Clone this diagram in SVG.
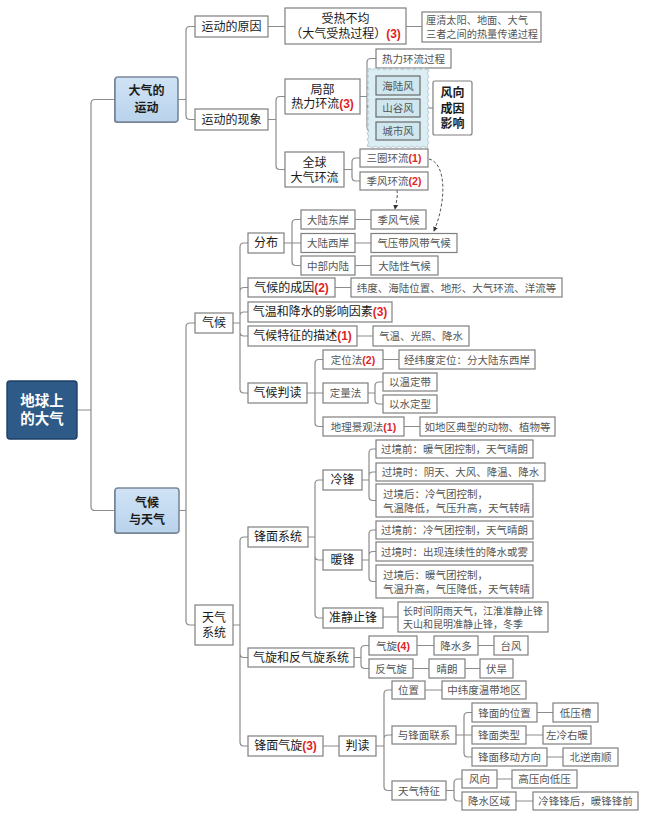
<svg xmlns="http://www.w3.org/2000/svg" width="645" height="819" viewBox="0 0 645 819">
<defs>
<linearGradient id="g1" x1="0" y1="0" x2="0" y2="1"><stop offset="0" stop-color="#d0e3f5"/><stop offset="1" stop-color="#b9d3ec"/></linearGradient>
<style>
.bx{fill:#fff;stroke:#7f7f7f;stroke-width:1.2}
.l1{fill:url(#g1);stroke:#7a889a;stroke-width:1.6}
.sh{fill:#6e7a88}
.rt{fill:#2e5a88;stroke:#1e3f66;stroke-width:1.4}
.ib{fill:#cfe6ee;stroke:#6a6a6a;stroke-width:1.2}
.t{font-family:"Liberation Sans","Noto Sans CJK SC",sans-serif;text-anchor:middle;dominant-baseline:central}
.s{font-size:10.5px;fill:#555}
.m{font-size:12px;fill:#1a1a1a}
.b{font-weight:bold}
.lt{text-anchor:start}
.r{fill:#e02424;font-weight:bold}
.cn{fill:none;stroke:#8c8c8c;stroke-width:1.2}
.da{fill:none;stroke:#555;stroke-width:1;stroke-dasharray:3 2}
</style>
<marker id="ah" viewBox="0 0 6 6" refX="5" refY="3" markerWidth="5" markerHeight="5" orient="auto">
<path d="M0,0 L6,3 L0,6 Z" fill="#333"/>
</marker>
</defs>
<rect width="645" height="819" fill="#fff"/>

<g id="connectors" class="cn">
<path d="M77,410 H91 M91,410 V103.5 Q91,99.5 95,99.5 H115 M91,410 V506.5 Q91,510.5 95,510.5 H115"/>
<path d="M178,99.5 H186 M186,99.5 V30.5 Q186,26.5 190,26.5 H195 M186,99.5 V115.5 Q186,119.5 190,119.5 H195"/>
<path d="M268,26.5 H285 M406,26.5 H422"/>
<path d="M268,119.5 H276 M276,119.5 V100.5 Q276,96.5 280,96.5 H285 M276,119.5 V165.5 Q276,169.5 280,169.5 H285"/>
<path d="M360,96.5 H367 M367,96.5 V62.5 Q367,58.5 371,58.5 H376 M367,96.5 V89.5 Q367,85.5 371,85.5 H376 M367,96.5 V104 Q367,108 371,108 H376 M367,96.5 V127 Q367,131 371,131 H376"/>
<path d="M420,108 H433"/>
<path d="M344,169.5 H352 M352,169.5 V162 Q352,158 356,158 H360 M352,169.5 V177 Q352,181 356,181 H360"/>
<path d="M179,510.5 H186 M186,510.5 V327 Q186,323 190,323 H195 M186,510.5 V621 Q186,625 190,625 H195"/>
<path d="M233,323 H240 M240,323 V247 Q240,243 244,243 H248 M240,323 V291.5 Q240,287.5 244,287.5 H248 M240,323 V316 Q240,312 244,312 H248 M240,323 V332 Q240,336 244,336 H248 M240,323 V389 Q240,393 244,393 H248"/>
<path d="M284,243 H301 M292,243 V223.5 Q292,219.5 296,219.5 H301 M292,243 V261.5 Q292,265.5 296,265.5 H301"/>
<path d="M355,219.5 H371 M355,243 H371 M355,265.5 H371 M335,287.5 H351 M357,336 H373"/>
<path d="M307,393 H323 M315,393 V363.5 Q315,359.5 319,359.5 H323 M315,393 V422.5 Q315,426.5 319,426.5 H323"/>
<path d="M383,359.5 H399 M368,393 H375 M375,393 V386 Q375,382 379,382 H383 M375,393 V400 Q375,404 379,404 H383 M404,426.5 H420"/>
<path d="M233,625 H240 M240,625 V541 Q240,537 244,537 H248 M240,625 V653.5 Q240,657.5 244,657.5 H248 M240,625 V742 Q240,746 244,746 H248"/>
<path d="M308,537 H315 M315,537 V484 Q315,480 319,480 H323 M315,537 V556 Q315,560 319,560 H323 M315,537 V614 Q315,618 319,618 H323"/>
<path d="M362,480 H369 M369,480 V453 Q369,449 373,449 H376 M369,480 V476 Q369,472 373,472 H376 M369,480 V496.5 Q369,500.5 373,500.5 H376"/>
<path d="M362,560 H369 M369,560 V534 Q369,530 373,530 H376 M369,560 V555.5 Q369,551.5 373,551.5 H376 M369,560 V577.5 Q369,581.5 373,581.5 H376"/>
<path d="M383,617 H398"/>
<path d="M354,657.5 H361 M361,657.5 V649.5 Q361,645.5 365,645.5 H369 M361,657.5 V664.5 Q361,668.5 365,668.5 H369"/>
<path d="M417,645.5 H434 M478,645.5 H494 M413,668.5 H429 M465,668.5 H480"/>
<path d="M323,746 H339 M376,746 H384 M384,746 V694 Q384,690 388,690 H392 M384,746 V739 Q384,735 388,735 H392 M384,746 V786.5 Q384,790.5 388,790.5 H392"/>
<path d="M425,690 H442 M456,735 H472 M464,735 V716.5 Q464,712.5 468,712.5 H472 M464,735 V753 Q464,757 468,757 H472"/>
<path d="M537,712.5 H553 M526,735 H543 M547,757 H563"/>
<path d="M446,790.5 H454 M454,790.5 V783 Q454,779 458,779 H462 M454,790.5 V797 Q454,801 458,801 H462 M497,779 H512 M516,801 H533"/>
<path class="da" d="M397,190 C398,198 396,203 395,209" marker-end="url(#ah)"/>
<path class="da" d="M429,159 C446,163 447,200 434,231" marker-end="url(#ah)"/>
</g>

<g id="n-root"><rect class="rt" x="7" y="381" width="70" height="58" rx="3"/><text class="t b" x="42" y="401" font-size="14.5" fill="#fff">地球上</text><text class="t b" x="42" y="419" font-size="14.5" fill="#fff">的大气</text></g>
<g id="n-dqyd"><rect class="sh" x="114" y="78" width="63" height="45" rx="3"/><rect class="l1" x="115" y="77" width="63" height="45" rx="3"/><text class="t m b" x="146.5" y="91">大气的</text><text class="t m b" x="146.5" y="108">运动</text></g>
<g id="n-qhytq"><rect class="sh" x="114" y="489" width="64" height="45" rx="3"/><rect class="l1" x="115" y="488" width="64" height="45" rx="3"/><text class="t m b" x="147" y="503">气候</text><text class="t m b" x="147" y="520">与天气</text></g>

<g id="n-ydyy"><rect class="bx" x="195" y="16" width="73" height="21"/><text class="t m" x="231.5" y="26.5">运动的原因</text></g>
<g id="n-srbj"><rect class="bx" x="285" y="8" width="121" height="36"/><text class="t m" x="345.5" y="19">受热不均</text><text class="t m" x="345.5" y="34">（大气受热过程）<tspan class="r">(3)</tspan></text></g>
<g id="n-lq"><rect class="bx" x="422" y="12" width="119" height="30"/><text class="t lt" x="426" y="20.5" font-size="10.2" fill="#555">厘清太阳、地面、大气</text><text class="t lt" x="426" y="34" font-size="10.2" fill="#555">三者之间的热量传递过程</text></g>
<g id="n-ydxx"><rect class="bx" x="195" y="109" width="73" height="21"/><text class="t m" x="231.5" y="119.5">运动的现象</text></g>
<g id="n-jb"><rect class="bx" x="285" y="79" width="75" height="35"/><text class="t m" x="322.5" y="90">局部</text><text class="t m" x="322.5" y="104">热力环流<tspan class="r">(3)</tspan></text></g>
<g id="n-qq"><rect class="bx" x="285" y="152" width="59" height="35"/><text class="t m" x="314.5" y="163">全球</text><text class="t m" x="314.5" y="178">大气环流</text></g>
<g id="n-rlhlgc"><rect class="bx" x="376" y="49" width="75" height="19"/><text class="t s" x="413.5" y="58.5">热力环流过程</text></g>
<g id="n-wave"><path d="M368,69 q1.5,-1.6 3,0 t3,0 t3,0 t3,0 t3,0 t3,0 t3,0 t3,0 t3,0 t3,0 t3,0 t3,0 t3,0 t3,0 t3,0 t3,0 t3,0 t3,0 t3,0 t3,0 q1.6,1.5 0,3 t0,3 t0,3 t0,3 t0,3 t0,3 t0,3 t0,3 t0,3 t0,3 t0,3 t0,3 t0,3 t0,3 t0,3 t0,3 t0,3 t0,3 t0,3 t0,3 t0,3 t0,3 t0,3 t0,3 t0,3 t0,3 q-1.5,1.6 -3,0 t-3,0 t-3,0 t-3,0 t-3,0 t-3,0 t-3,0 t-3,0 t-3,0 t-3,0 t-3,0 t-3,0 t-3,0 t-3,0 t-3,0 t-3,0 t-3,0 t-3,0 t-3,0 t-3,0 q-1.6,-1.5 0,-3 t0,-3 t0,-3 t0,-3 t0,-3 t0,-3 t0,-3 t0,-3 t0,-3 t0,-3 t0,-3 t0,-3 t0,-3 t0,-3 t0,-3 t0,-3 t0,-3 t0,-3 t0,-3 t0,-3 t0,-3 t0,-3 t0,-3 t0,-3 t0,-3 t0,-3 Z" fill="#dbeef3" stroke="#b4c9d0" stroke-width="1"/></g>
<g id="n-hlf"><rect class="ib" x="376" y="76" width="44" height="19"/><text class="t s" x="398" y="85.5">海陆风</text></g>
<g id="n-sgf"><rect class="ib" x="376" y="99" width="44" height="18"/><text class="t s" x="398" y="108">山谷风</text></g>
<g id="n-csf"><rect class="ib" x="376" y="122" width="44" height="18"/><text class="t s" x="398" y="131">城市风</text></g>
<g id="n-fxcyyx"><rect class="bx" x="433" y="81" width="39" height="54" rx="2"/><text class="t m b" x="452.5" y="93">风向</text><text class="t m b" x="452.5" y="108.5">成因</text><text class="t m b" x="452.5" y="124">影响</text></g>
<g id="n-sqhl"><rect class="bx" x="360" y="149" width="68" height="18"/><text class="t s" x="394" y="158">三圈环流<tspan class="r">(1)</tspan></text></g>
<g id="n-jfhl"><rect class="bx" x="360" y="172" width="68" height="18"/><text class="t s" x="394" y="181">季风环流<tspan class="r">(2)</tspan></text></g>

<g id="n-qh"><rect class="bx" x="195" y="313" width="38" height="20"/><text class="t m" x="214" y="323">气候</text></g>
<g id="n-fb"><rect class="bx" x="248" y="233" width="36" height="20"/><text class="t m" x="266" y="243">分布</text></g>
<g id="n-dlda"><rect class="bx" x="301" y="210" width="54" height="19"/><text class="t s" x="328" y="219.5">大陆东岸</text></g>
<g id="n-jfqh"><rect class="bx" x="371" y="210" width="55" height="19"/><text class="t s" x="398.5" y="219.5">季风气候</text></g>
<g id="n-dlxa"><rect class="bx" x="301" y="233.5" width="54" height="19"/><text class="t s" x="328" y="243">大陆西岸</text></g>
<g id="n-qydfd"><rect class="bx" x="371" y="233.5" width="86" height="19"/><text class="t s" x="414" y="243">气压带风带气候</text></g>
<g id="n-zbnl"><rect class="bx" x="301" y="256" width="54" height="19"/><text class="t s" x="328" y="265.5">中部内陆</text></g>
<g id="n-dlxqh"><rect class="bx" x="371" y="256" width="67" height="19"/><text class="t s" x="404.5" y="265.5">大陆性气候</text></g>
<g id="n-qhcy"><rect class="bx" x="248" y="278" width="87" height="19"/><text class="t m" x="291.5" y="287.5">气候的成因<tspan class="r">(2)</tspan></text></g>
<g id="n-wd"><rect class="bx" x="351" y="278" width="211" height="19"/><text class="t s" x="456.5" y="287.5">纬度、海陆位置、地形、大气环流、洋流等</text></g>
<g id="n-yxys"><rect class="bx" x="248" y="302" width="144" height="20"/><text class="t m" x="320" y="312">气温和降水的影响因素<tspan class="r">(3)</tspan></text></g>
<g id="n-tzms"><rect class="bx" x="248" y="326" width="109" height="20"/><text class="t m" x="302.5" y="336">气候特征的描述<tspan class="r">(1)</tspan></text></g>
<g id="n-qwgz"><rect class="bx" x="373" y="326" width="96" height="20"/><text class="t s" x="421" y="336">气温、光照、降水</text></g>
<g id="n-qhpd"><rect class="bx" x="248" y="383" width="59" height="20"/><text class="t m" x="277.5" y="393">气候判读</text></g>
<g id="n-dwf"><rect class="bx" x="323" y="350" width="60" height="19"/><text class="t s" x="353" y="359.5">定位法<tspan class="r">(2)</tspan></text></g>
<g id="n-jwd"><rect class="bx" x="399" y="350" width="136" height="19"/><text class="t s" x="467" y="359.5">经纬度定位：分大陆东西岸</text></g>
<g id="n-dlf"><rect class="bx" x="323" y="383" width="45" height="20"/><text class="t s" x="345.5" y="393">定量法</text></g>
<g id="n-ywdd"><rect class="bx" x="383" y="373" width="54" height="18"/><text class="t s" x="410" y="382">以温定带</text></g>
<g id="n-ysdx"><rect class="bx" x="383" y="395" width="54" height="18"/><text class="t s" x="410" y="404">以水定型</text></g>
<g id="n-dljg"><rect class="bx" x="323" y="417" width="81" height="19"/><text class="t s" x="363.5" y="426.5">地理景观法<tspan class="r">(1)</tspan></text></g>
<g id="n-rdq"><rect class="bx" x="420" y="417" width="135" height="19"/><text class="t s" x="487.5" y="426.5">如地区典型的动物、植物等</text></g>

<g id="n-tqxt"><rect class="bx" x="195" y="605" width="38" height="40"/><text class="t m" x="214" y="617.5">天气</text><text class="t m" x="214" y="633">系统</text></g>
<g id="n-fmxt"><rect class="bx" x="248" y="527" width="60" height="20"/><text class="t m" x="278" y="537">锋面系统</text></g>
<g id="n-lf"><rect class="bx" x="323" y="470" width="39" height="20"/><text class="t m" x="342.5" y="480">冷锋</text></g>
<g id="n-lf1"><rect class="bx" x="376" y="440" width="157" height="18"/><text class="t s" x="454.5" y="449">过境前：暖气团控制，天气晴朗</text></g>
<g id="n-lf2"><rect class="bx" x="376" y="463" width="169" height="18"/><text class="t s" x="460.5" y="472">过境时：阴天、大风、降温、降水</text></g>
<g id="n-lf3"><rect class="bx" x="376" y="484" width="157" height="33"/><text class="t s lt" x="383" y="494">过境后：冷气团控制，</text><text class="t s lt" x="383" y="507.5">气温降低，气压升高，天气转晴</text></g>
<g id="n-nf"><rect class="bx" x="323" y="550" width="39" height="20"/><text class="t m" x="342.5" y="560">暖锋</text></g>
<g id="n-nf1"><rect class="bx" x="376" y="521" width="157" height="18"/><text class="t s" x="454.5" y="530">过境前：冷气团控制，天气晴朗</text></g>
<g id="n-nf2"><rect class="bx" x="376" y="542" width="157" height="19"/><text class="t s" x="454.5" y="551.5">过境时：出现连续性的降水或雾</text></g>
<g id="n-nf3"><rect class="bx" x="376" y="565" width="157" height="33"/><text class="t s lt" x="383" y="574.5">过境后：暖气团控制，</text><text class="t s lt" x="383" y="588.5">气温升高，气压降低，天气转晴</text></g>
<g id="n-zjzf"><rect class="bx" x="323" y="608" width="60" height="20"/><text class="t m" x="353" y="618">准静止锋</text></g>
<g id="n-csj"><rect class="bx" x="398" y="602" width="150" height="30"/><text class="t lt" x="403" y="611" font-size="10" fill="#555">长时间阴雨天气，江淮准静止锋</text><text class="t lt" x="403" y="624" font-size="10" fill="#555">天山和昆明准静止锋，冬季</text></g>
<g id="n-qxfqx"><rect class="bx" x="248" y="648" width="106" height="19"/><text class="t m" x="301" y="657.5">气旋和反气旋系统</text></g>
<g id="n-qx"><rect class="bx" x="369" y="636" width="48" height="19"/><text class="t s" x="393" y="645.5">气旋<tspan class="r">(4)</tspan></text></g>
<g id="n-jsd"><rect class="bx" x="434" y="636" width="44" height="19"/><text class="t s" x="456" y="645.5">降水多</text></g>
<g id="n-tf"><rect class="bx" x="494" y="636" width="34" height="19"/><text class="t s" x="511" y="645.5">台风</text></g>
<g id="n-fqx"><rect class="bx" x="369" y="659" width="44" height="19"/><text class="t s" x="391" y="668.5">反气旋</text></g>
<g id="n-ql"><rect class="bx" x="429" y="659" width="36" height="19"/><text class="t s" x="447" y="668.5">晴朗</text></g>
<g id="n-fh"><rect class="bx" x="480" y="659" width="33" height="19"/><text class="t s" x="496.5" y="668.5">伏旱</text></g>
<g id="n-fmqx"><rect class="bx" x="248" y="736" width="75" height="20"/><text class="t m" x="285.5" y="746">锋面气旋<tspan class="r">(3)</tspan></text></g>
<g id="n-pd"><rect class="bx" x="339" y="736" width="37" height="20"/><text class="t m" x="357.5" y="746">判读</text></g>
<g id="n-wz"><rect class="bx" x="392" y="681" width="33" height="18"/><text class="t s" x="408.5" y="690">位置</text></g>
<g id="n-zwd"><rect class="bx" x="442" y="681" width="84" height="18"/><text class="t s" x="484" y="690">中纬度温带地区</text></g>
<g id="n-yfmlx"><rect class="bx" x="392" y="726" width="64" height="18"/><text class="t s" x="424" y="735">与锋面联系</text></g>
<g id="n-fmwz"><rect class="bx" x="472" y="703" width="65" height="19"/><text class="t s" x="504.5" y="712.5">锋面的位置</text></g>
<g id="n-dyc"><rect class="bx" x="553" y="703" width="45" height="19"/><text class="t s" x="575.5" y="712.5">低压槽</text></g>
<g id="n-fmlx"><rect class="bx" x="472" y="726" width="54" height="18"/><text class="t s" x="499" y="735">锋面类型</text></g>
<g id="n-zlyn"><rect class="bx" x="543" y="726" width="48" height="18"/><text class="t s" x="567" y="735">左冷右暖</text></g>
<g id="n-fmyd"><rect class="bx" x="472" y="748" width="75" height="18"/><text class="t s" x="509.5" y="757">锋面移动方向</text></g>
<g id="n-bnns"><rect class="bx" x="563" y="748" width="55" height="18"/><text class="t s" x="590.5" y="757">北逆南顺</text></g>
<g id="n-tqtz"><rect class="bx" x="392" y="781" width="54" height="19"/><text class="t s" x="419" y="790.5">天气特征</text></g>
<g id="n-fx"><rect class="bx" x="462" y="770" width="35" height="18"/><text class="t s" x="479.5" y="779">风向</text></g>
<g id="n-gyx"><rect class="bx" x="512" y="770" width="65" height="18"/><text class="t s" x="544.5" y="779">高压向低压</text></g>
<g id="n-jsqy"><rect class="bx" x="462" y="792" width="54" height="18"/><text class="t s" x="489" y="801">降水区域</text></g>
<g id="n-lfhf"><rect class="bx" x="533" y="792" width="105" height="18"/><text class="t s" x="585.5" y="801">冷锋锋后，暖锋锋前</text></g>
</svg>
